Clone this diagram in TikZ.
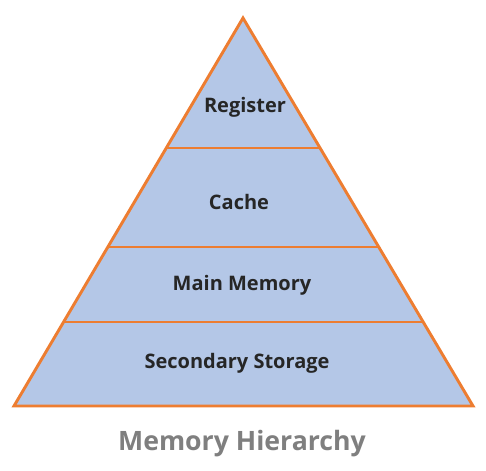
\documentclass[tikz,border=0pt]{standalone}
\usepackage{fontspec}
\setmainfont{Open Sans}
\definecolor{layerblue}{HTML}{B4C7E7}
\definecolor{edgeorange}{HTML}{ED7D31}
\definecolor{labeltext}{HTML}{262626}
\definecolor{titlegray}{HTML}{7F7F7F}
\tikzset{
  level/.style={font=\bfseries\fontsize{15}{18}\selectfont, text=labeltext},
  divider/.style={edgeorange, line width=2.2pt}
}

\begin{document}
\begin{tikzpicture}[x=0.75pt, y=-0.75pt]
\useasboundingbox (0,0) rectangle (486,471);

% the pyramid
\coordinate (apex) at (243,18);
\coordinate (baseL) at (14,406);
\coordinate (baseR) at (473,406);
\fill[layerblue] (apex) -- (baseL) -- (baseR) -- cycle;

% dividers between levels
\coordinate (d1L) at (166.3,148); \coordinate (d1R) at (319.7,148);
\coordinate (d2L) at (107.8,247); \coordinate (d2R) at (378.2,247);
\coordinate (d3L) at (63.6,322);  \coordinate (d3R) at (422.4,322);
\draw[divider] (d1L) -- (d1R);
\draw[divider] (d2L) -- (d2R);
\draw[divider] (d3L) -- (d3R);
\draw[divider, line join=miter] (apex) -- (baseL) -- (baseR) -- cycle;

% level labels
\node[level] (register) at (245,107) {Register};
\node[level] (cache) at (239,202) {Cache};
\node[level] (mainmem) at (242,285) {Main Memory};
\node[level] (secondary) at (237,363) {Secondary Storage};

% caption
\node[font=\bfseries\fontsize{20}{24}\selectfont, text=titlegray] (title) at (242,444) {Memory Hierarchy};
\end{tikzpicture}
\end{document}
